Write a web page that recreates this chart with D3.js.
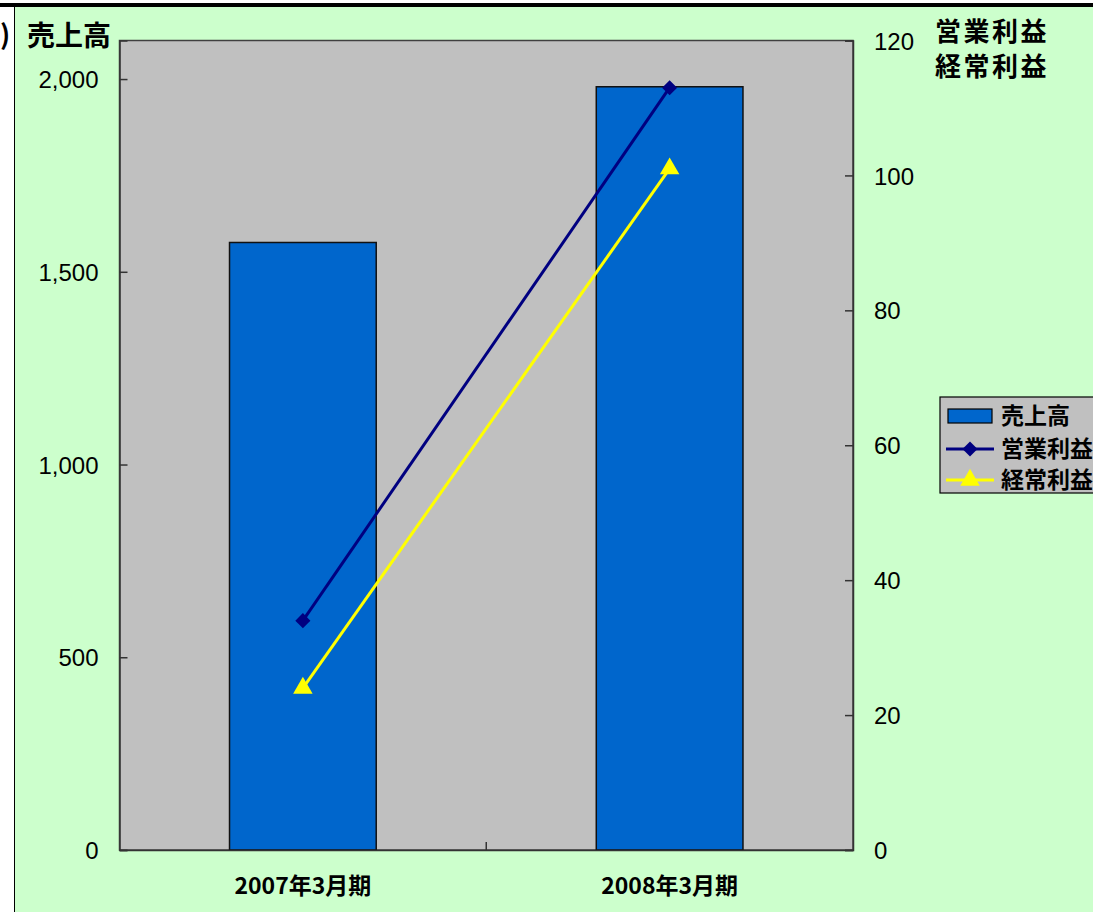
<!DOCTYPE html>
<html>
<head>
<meta charset="utf-8">
<script src="https://cdn.jsdelivr.net/npm/d3@7"></script>
<style>
  html, body { margin: 0; padding: 0; background: #ffffff; }
  svg { display: block; }
  .num { font-family: "Liberation Sans", Arial, sans-serif; font-size: 24px; fill: #000; }
  .jp { font-family: "Noto Sans CJK JP", sans-serif; font-weight: bold; fill: #000; }
</style>
</head>
<body>
<script>
// Fiscal periods and results (百万円)
const categories = ["2007年3月期", "2008年3月期"];
const sales = [1576, 1980];            // 売上高 (left axis)
const operatingProfit = [34, 113];     // 営業利益 (right axis)
const ordinaryProfit = [24, 101];      // 経常利益 (right axis)
const leftTicks = [0, 500, 1000, 1500, 2000];
const rightTicks = [0, 20, 40, 60, 80, 100, 120];
const seriesNames = ["売上高", "営業利益", "経常利益"];

const W = 1093, H = 912;
const plot = { left: 119.5, right: 853, top: 40.5, bottom: 850 };

const svg = d3.select("body").append("svg")
  .attr("width", W).attr("height", H);

// Frame: white strip on the left, black rule on top, green panel
svg.append("rect").attr("x", 0).attr("y", 0).attr("width", W).attr("height", H).attr("fill", "#ffffff");
svg.append("rect").attr("x", 14).attr("y", 6).attr("width", W - 14).attr("height", H - 6)
  .attr("fill", "#ccffcc");
svg.append("line").attr("x1", 14.5).attr("x2", 14.5).attr("y1", 6).attr("y2", H)
  .attr("stroke", "#000").attr("stroke-width", 1);
svg.append("rect").attr("x", 0).attr("y", 3).attr("width", W).attr("height", 4).attr("fill", "#000");

// Scales
const x = d3.scaleBand().domain(categories).range([plot.left, plot.right]).padding(0);
const barW = x.bandwidth() / 2.5;
const yL = d3.scaleLinear().domain([0, 2100]).range([plot.bottom, plot.top]);
const yR = d3.scaleLinear().domain([0, 120]).range([plot.bottom, plot.top]);
const cx = c => x(c) + x.bandwidth() / 2;

// Plot area
svg.append("rect")
  .attr("x", plot.left).attr("y", plot.top)
  .attr("width", plot.right - plot.left).attr("height", plot.bottom - plot.top)
  .attr("fill", "#c0c0c0").attr("stroke", "#404040").attr("stroke-width", 1.5);

// Bars
svg.append("g").selectAll("rect").data(categories).join("rect")
  .attr("x", c => cx(c) - barW / 2)
  .attr("y", (c, i) => yL(sales[i]))
  .attr("width", barW)
  .attr("height", (c, i) => plot.bottom - yL(sales[i]))
  .attr("fill", "#0066cc").attr("stroke", "#111").attr("stroke-width", 1.5);

// Left axis
const gL = svg.append("g").attr("transform", `translate(${plot.left},0)`)
  .call(d3.axisRight(yL).tickValues(leftTicks).tickSize(8).tickFormat(d3.format(",")));
gL.select(".domain").attr("stroke", "#333").attr("stroke-width", 1.5);
gL.selectAll(".tick line").attr("stroke", "#333").attr("stroke-width", 1.5);
gL.selectAll(".tick text").attr("class", "num").attr("x", -21).attr("text-anchor", "end")
  .attr("dy", "0.36em");

// Right axis
const gR = svg.append("g").attr("transform", `translate(${plot.right},0)`)
  .call(d3.axisLeft(yR).tickValues(rightTicks).tickSize(8));
gR.select(".domain").attr("stroke", "#333").attr("stroke-width", 1.5);
gR.selectAll(".tick line").attr("stroke", "#333").attr("stroke-width", 1.5);
gR.selectAll(".tick text").attr("class", "num").attr("x", 21).attr("text-anchor", "start")
  .attr("dy", "0.36em");

// Category axis: divider tick between the periods, labels below
const gX = svg.append("g").attr("transform", `translate(0,${plot.bottom})`)
  .call(d3.axisBottom(x).tickSize(0).tickPadding(0));
gX.select(".domain").attr("stroke", "#333").attr("stroke-width", 1.5);
gX.selectAll(".tick text").attr("class", "jp").style("font-size", "23px")
  .attr("y", 44).attr("dy", 0);
svg.append("line")
  .attr("x1", x(categories[1])).attr("x2", x(categories[1]))
  .attr("y1", plot.bottom).attr("y2", plot.bottom - 8)
  .attr("stroke", "#333").attr("stroke-width", 1.5);

// Lines with markers
const line = d3.line().x(d => d[0]).y(d => d[1]);
const opPts = categories.map((c, i) => [cx(c), yR(operatingProfit[i])]);
const ordPts = categories.map((c, i) => [cx(c), yR(ordinaryProfit[i])]);

svg.append("path").attr("d", line(opPts)).attr("fill", "none")
  .attr("stroke", "#000080").attr("stroke-width", 3);
svg.append("path").attr("d", line(ordPts)).attr("fill", "none")
  .attr("stroke", "#ffff00").attr("stroke-width", 3);

const diamond = d3.symbol().type(d3.symbolDiamond2).size(145);
const triangle = d3.symbol().type(d3.symbolTriangle).size(165);

svg.append("g").selectAll("path").data(opPts).join("path")
  .attr("transform", d => `translate(${d[0]},${d[1]})`)
  .attr("d", diamond).attr("fill", "#000080");
svg.append("g").selectAll("path").data(ordPts).join("path")
  .attr("transform", d => `translate(${d[0]},${d[1]})`)
  .attr("d", triangle).attr("fill", "#ffff00");

// Axis titles
svg.append("text").attr("class", "jp").attr("x", 0).attr("y", 45)
  .style("font-size", "27px").text(")");
svg.append("text").attr("class", "jp").attr("x", 27).attr("y", 46)
  .style("font-size", "28px").text(seriesNames[0]);
svg.append("text").attr("class", "jp").attr("x", 935).attr("y", 41)
  .style("font-size", "26px").style("letter-spacing", "2.5px").text(seriesNames[1]);
svg.append("text").attr("class", "jp").attr("x", 935).attr("y", 76)
  .style("font-size", "26px").style("letter-spacing", "2.5px").text(seriesNames[2]);

// Legend
const lg = svg.append("g").attr("transform", "translate(940,397)");
lg.append("rect").attr("x", 0).attr("y", 0).attr("width", 170).attr("height", 96)
  .attr("fill", "#c0c0c0").attr("stroke", "#000").attr("stroke-width", 1.2);
const rowY = [19, 52, 83];
lg.append("rect").attr("x", 8).attr("y", rowY[0] - 7).attr("width", 44).attr("height", 14)
  .attr("fill", "#0066cc").attr("stroke", "#000").attr("stroke-width", 1.2);
lg.append("line").attr("x1", 6).attr("x2", 54).attr("y1", rowY[1]).attr("y2", rowY[1])
  .attr("stroke", "#000080").attr("stroke-width", 3);
lg.append("path").attr("transform", `translate(30,${rowY[1]})`).attr("d", diamond).attr("fill", "#000080");
lg.append("line").attr("x1", 6).attr("x2", 54).attr("y1", rowY[2]).attr("y2", rowY[2])
  .attr("stroke", "#ffff00").attr("stroke-width", 3);
lg.append("path").attr("transform", `translate(30,${rowY[2]})`).attr("d", triangle).attr("fill", "#ffff00");
lg.selectAll("text.lab").data(seriesNames).join("text")
  .attr("class", "jp lab").attr("x", 61).attr("y", (d, i) => rowY[i] + 8)
  .style("font-size", "23px").text(d => d);
</script>
</body>
</html>
